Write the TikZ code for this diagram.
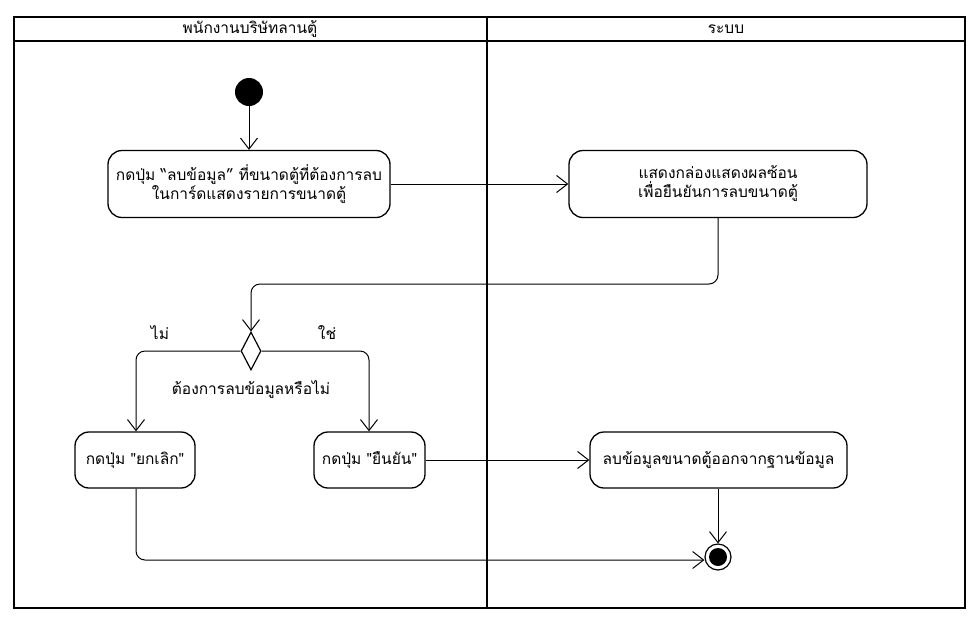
\documentclass[tikz,border=0pt]{standalone}
\usepackage{fontspec}
\newfontfamily\thaifont[Script=Thai]{Loma}
\usetikzlibrary{arrows.meta,shapes.geometric}
\begin{document}
\begin{tikzpicture}[x=1pt,y=-1pt,
  every node/.style={font=\thaifont\fontsize{15.5}{19}\selectfont},
  act/.style={draw,line width=1.3pt,rounded corners=14pt,align=center,inner sep=0pt},
  conn/.style={line width=1pt,rounded corners=9pt,-{Straight Barb[length=11pt,width=17pt,line width=1pt]}},
  lane/.style={line width=2.5pt}]
\useasboundingbox (0,0) rectangle (980,622);
% swimlanes
\draw[lane] (14,17) rectangle (965,608);
\draw[lane] (14,41) -- (965,41);
\draw[lane] (487,17) -- (487,608);
\node (h1) at (250,29) {พนักงานบริษัทลานตู้};
\node (h2) at (726,29) {ระบบ};
% nodes
\node[circle,fill=black,minimum size=28pt,inner sep=0pt] (start) at (249,92) {};
\node[act,minimum width=282pt,minimum height=67pt] (b1) at (249,184) {กดปุ่ม “ลบข้อมูล” ที่ขนาดตู้ที่ต้องการลบ\\ในการ์ดแสดงรายการขนาดตู้};
\node[act,minimum width=298pt,minimum height=67pt] (b2) at (718,184) {แสดงกล่องแสดงผลซ้อน\\เพื่อยืนยันการลบขนาดตู้};
\node[diamond,draw,line width=1.2pt,minimum width=20pt,minimum height=38pt,inner sep=0pt,aspect=0.5] (d) at (251,351) {};
\node (q) at (251,390) {ต้องการลบข้อมูลหรือไม่};
\node (no) at (160,333) {ไม่};
\node (yes) at (327,333) {ใช่};
\node[act,minimum width=120pt,minimum height=56pt] (b3) at (135,460) {กดปุ่ม "ยกเลิก"};
\node[act,minimum width=111pt,minimum height=56pt] (b4) at (369.5,460) {กดปุ่ม "ยืนยัน"};
\node[act,minimum width=257pt,minimum height=56pt] (b5) at (718.5,460) {ลบข้อมูลขนาดตู้ออกจากฐานข้อมูล};
\node[circle,draw,line width=1.2pt,minimum size=26pt,inner sep=0pt] (end) at (718,557) {};
\node[circle,fill=black,minimum size=18pt,inner sep=0pt] at (end) {};
\coordinate (c1) at (718,284);
\coordinate (c2) at (251,284);
% connectors
\draw[conn] (start) -- (start |- b1.north);
\draw[conn] (b1.east) -- (b2.west);
\draw[conn] (b2.south -| c1) -- (c1) -- (c2) -- (d.north);
\draw[conn] (d.west) -- (136,351) -- (b3.north -| 136,0);
\draw[conn] (d.east) -- (369,351) -- (b4.north -| 369,0);
\draw[conn] (b4.east) -- (b5.west);
\draw[conn] (b5.south -| end) -- (end.north);
\draw[conn] (b3.south -| 136,0) -- (136,560) -- (end.west |- 136,560);
\end{tikzpicture}
\end{document}
